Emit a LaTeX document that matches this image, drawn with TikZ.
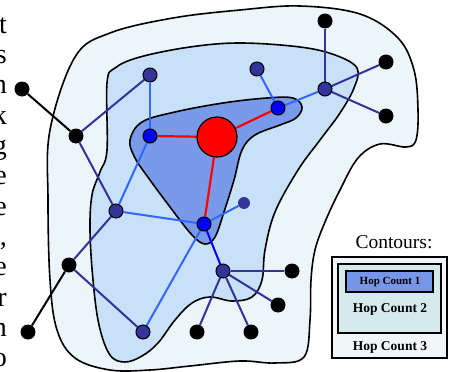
\documentclass[tikz,border=0pt]{standalone}
\usepackage{fontspec}
\setmainfont{Liberation Serif}
\pgfdeclarelayer{bg}
\pgfdeclarelayer{edges}
\pgfsetlayers{bg,edges,main}
\definecolor{hopthree}{RGB}{236,245,250}
\definecolor{hoptwo}{RGB}{200,224,248}
\definecolor{hopone}{RGB}{120,154,232}
\definecolor{darkblue}{RGB}{51,51,153}
\definecolor{lightblue}{RGB}{51,102,255}
\definecolor{legtwo}{RGB}{212,234,236}
\definecolor{legthree}{RGB}{240,247,249}
\definecolor{legone}{RGB}{120,150,232}
\begin{document}
\begin{tikzpicture}[x=1pt,y=-1pt,
  contour/.style={draw=black, line width=1.6pt},
  nblack/.style={circle, fill=black, minimum size=15pt, inner sep=0pt},
  ndark/.style={circle, fill=darkblue, draw=black, line width=1pt, minimum size=14pt, inner sep=0pt},
  nblue/.style={circle, fill=blue, draw=black, line width=1pt, minimum size=14pt, inner sep=0pt},
  nred/.style={circle, fill=red, draw=black, line width=1.2pt, minimum size=40pt, inner sep=0pt},
  ndot/.style={circle, fill=darkblue, minimum size=12pt, inner sep=0pt},
  eblack/.style={draw=black, line width=2pt},
  edark/.style={draw=darkblue, line width=2pt},
  elight/.style={draw=lightblue, line width=2pt},
  eblue/.style={draw=blue, line width=2pt},
  ered/.style={draw=red, line width=2.2pt},
  legbox/.style={draw=black, line width=1.6pt, inner sep=0pt},
  legtext/.style={inner sep=0pt, font=\bfseries\fontsize{13.5}{15}\selectfont},
  cutletter/.style={anchor=base east, inner sep=0pt, font=\fontsize{28}{30}\selectfont}
]
\useasboundingbox (0,0) rectangle (451,372);

% contours
\begin{pgfonlayer}{bg}
\filldraw[contour, fill=hopthree] plot[smooth cycle, tension=0.6] coordinates {
 (50,130) (48,200) (50,280) (57,330) (75,358) (110,370) (150,370) (190,366)
 (240,361) (275,363) (304,357) (310,320) (311,280) (315,250) (325,222)
 (340,190) (358,158) (380,144) (406,147) (416,140) (418,110) (414,70) (398,38)
 (360,14) (300,6) (240,10) (173,18) (110,33) (75,57)};
\filldraw[contour, fill=hoptwo] plot[smooth cycle, tension=0.6] coordinates {
 (107,83) (107,150) (100,172) (92,195) (90,230) (93,280) (99,325) (110,355)
 (125,362) (142,356) (158,343) (175,320) (192,303) (210,297) (232,301)
 (252,297) (262,280) (265,250) (275,212) (298,170) (320,140) (340,113)
 (354,88) (357,68) (335,55) (300,47) (240,43) (190,47) (140,57) (115,68)};
\filldraw[contour, fill=hopone] plot[smooth cycle, tension=0.6] coordinates {
 (130,140) (142,122) (175,112) (223,103) (267,98) (293,98) (302,107)
 (296,118) (280,125) (255,135) (242,150) (234,180) (224,212) (215,237)
 (205,244) (192,235) (170,207) (150,180) (135,158)};
\end{pgfonlayer}

% nodes
\node[nred] (src) at (217,137) {};
\node[nblue] (b1) at (150,136) {};
\node[nblue] (b2) at (278,108) {};
\node[nblue] (b3) at (204,224) {};
\node[ndark] (d1) at (150,75) {};
\node[ndark] (d2) at (257,69) {};
\node[ndark] (d3) at (325,89) {};
\node[ndark] (d4) at (116,211) {};
\node[ndark] (d5) at (143,332) {};
\node[ndark] (d6) at (223,271) {};
\node[ndot] (d7) at (244,203) {};
\node[nblack] (k1) at (22,89) {};
\node[nblack] (k2) at (76,136) {};
\node[nblack] (k3) at (69,265) {};
\node[nblack] (k4) at (28,332) {};
\node[nblack] (k5) at (325,21) {};
\node[nblack] (k6) at (386,62) {};
\node[nblack] (k7) at (386,116) {};
\node[nblack] (k8) at (292,271) {};
\node[nblack] (k9) at (278,305) {};
\node[nblack] (k10) at (251,332) {};
\node[nblack] (k11) at (197,332) {};

% edges
\begin{pgfonlayer}{edges}
\draw[ered] (src) -- (b1);
\draw[ered] (src) -- (b2);
\draw[ered] (src) -- (b3);
\draw[eblack] (k1) -- (k2);
\draw[eblack] (k3) -- (k4);
\draw[edark] (k2) -- (d1);
\draw[edark] (k2) -- (d4);
\draw[edark] (d4) -- (k3);
\draw[edark] (k3) -- (d5);
\draw[edark] (d3) -- (k5);
\draw[edark] (d3) -- (k6);
\draw[edark] (d3) -- (k7);
\draw[edark] (d6) -- (k8);
\draw[edark] (d6) -- (k9);
\draw[edark] (d6) -- (k10);
\draw[edark] (d6) -- (k11);
\draw[elight] (d1) -- (b1);
\draw[elight] (b1) -- (d4);
\draw[elight] (d4) -- (b3);
\draw[elight] (b3) -- (d7);
\draw[elight] (b3) -- (d5);
\draw[elight] (d2) -- (b2);
\draw[elight] (b2) -- (d3);
\draw[eblue] (b3) -- (d6);
\end{pgfonlayer}

% legend
\node[inner sep=0pt, font=\fontsize{19.5}{22}\selectfont] (legtitle) at (394,242) {Contours:};
\node[legbox, fill=legthree, minimum width=115pt, minimum height=101pt] (leg3) at (389.5,307.5) {};
\node[legbox, fill=legtwo, minimum width=103pt, minimum height=69pt] (leg2) at (389.5,298.5) {};
\node[legbox, fill=legone, minimum width=87pt, minimum height=21pt] (leg1) at (389.5,281.5) {};
\node[legtext, font=\bfseries\fontsize{11}{13}\selectfont] (t1) at (390,282) {Hop Count 1};
\node[legtext] (t2) at (390,309) {Hop Count 2};
\node[legtext] (t3) at (390,347) {Hop Count 3};

% cut-off text at left edge
\foreach \c [count=\i] in {t,s,n,k,g,e,e,{,},e,r,n,o}
  \node[cutletter] (L\i) at (7,3+30.3*\i) {\c};
\end{tikzpicture}
\end{document}
